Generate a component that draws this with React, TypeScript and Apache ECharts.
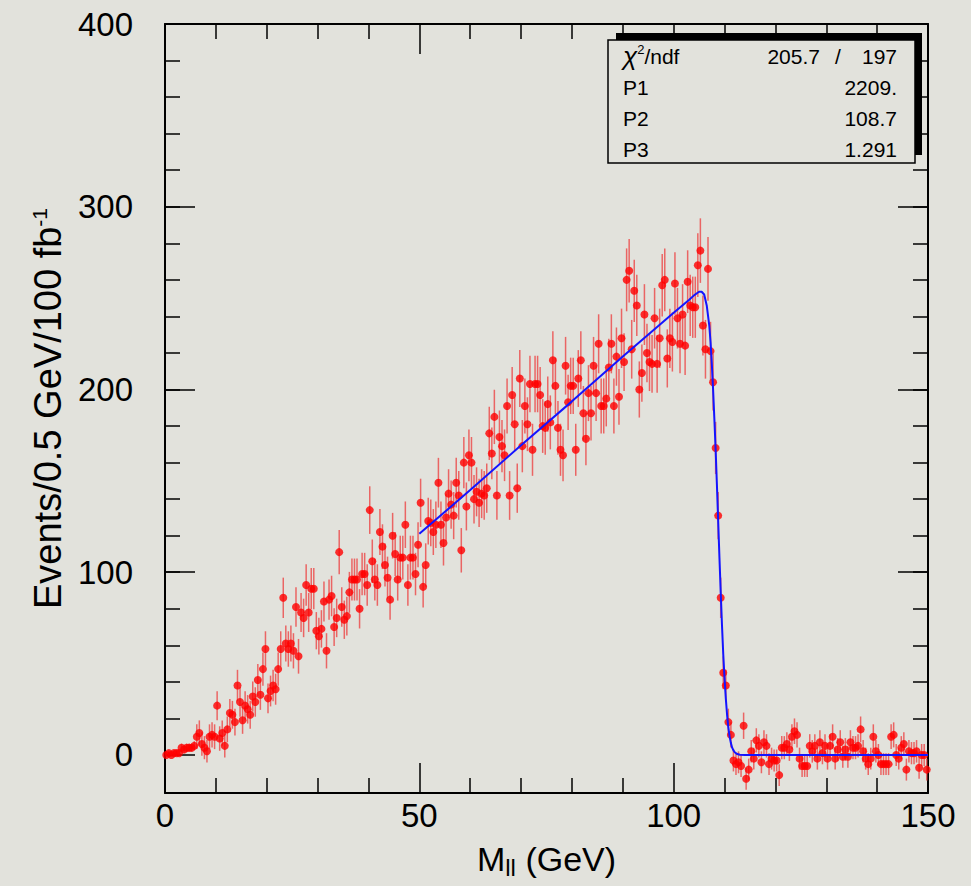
import React, { useEffect, useRef } from "react";
import * as echarts from "echarts";

// ---- data ----
const BIN_START_GEV = 0.25;
const BIN_WIDTH_GEV = 0.5;

// Events per 0.5 GeV bin, bins 0.25 .. 149.75 GeV
const EVENTS: number[] = [
  0, 1, 0, 1, 1, 1, 4, 3, 4, 4, 4, 5,
  10, 12, 6, 4, 2, 10, 11, 10,
  27, 9, 12, 5, 14, 23, 22, 18, 38, 29,
  19, 27, 25, 22, 32, 29, 41, 33, 47, 58,
  31, 35, 38, 36, 47, 58, 86, 61, 58, 61,
  57, 81, 54, 78, 75, 93, 78, 91, 91, 68,
  65, 69, 84, 57, 85, 87, 70, 75, 111, 81,
  74, 76, 89, 96, 96, 96, 80, 99, 99, 93,
  134, 106, 96, 93, 122, 114, 104, 97, 85, 120,
  110, 96, 108, 108, 126, 93, 108, 108, 99, 115,
  138, 92, 104, 128, 127, 122, 126, 149, 126, 116,
  130, 143, 137, 131, 149, 142, 112, 160, 136, 164,
  160, 140, 144, 138, 143, 142, 146, 176, 165, 185,
  142, 174, 169, 164, 191, 142, 197, 181, 146, 206,
  169, 191, 181, 203, 167, 203, 203, 197, 180, 179,
  192, 182, 216, 202, 179, 167, 164, 213, 193, 202,
  202, 167, 206, 216, 187, 173, 198, 187, 213, 198,
  225, 191, 191, 195, 212, 225, 191, 218, 196, 228,
  215, 260, 265, 222, 254, 246, 200, 209, 241, 220,
  215, 214, 239, 214, 228, 257, 260, 217, 228, 226,
  258, 239, 225, 241, 224, 259, 246, 245, 245, 268,
  276, 235, 222, 266, 221, 204, 168, 131, 86, 45,
  38, 18, 11, -3, -5, -4, -6, 16, -13, -8,
  2, -2, 8, 5, -4, 7, 5, -5, -2, -3,
  -3, -11, 4, 4, 6, 3, 10, 13, 11, -2,
  -6, -6, -6, 5, 2, 5, -2, 7, 1, 5,
  -2, 5, 10, -2, 3, 7, -1, 3, -1, 7,
  4, 4, 5, 14, 2, -2, -5, -2, 10, 2,
  0, -5, -5, -5, -5, 10, 11, 0, -2, 4,
  6, -8, 2, 1, 1, 2, -7, 0, 0, -8,
];

// extra variance (subtracted background) added to the Poisson error
const ERR_LOW_EDGE_GEV = 6;
const ERR_EXTRA_VAR_LOW = 1;
const ERR_EXTRA_VAR_HIGH = 36;

// fitted curve
const FIT_X = [
  50, 60, 70, 80, 90, 100, 103, 104, 104.5, 105, 105.5, 106, 106.5, 107,
  107.25, 107.5, 107.75, 108, 108.25, 108.5, 108.75, 109, 109.25, 109.5,
  109.75, 110, 110.25, 110.5, 110.75, 111, 111.25, 111.5, 111.75, 112,
  112.5, 113, 114, 150,
];
const FIT_Y = [
  121, 145, 169.5, 193.5, 218, 242, 249, 251.5, 252.5, 253.5, 253.5, 252,
  246, 235, 226, 214, 200, 184, 167, 148, 128, 108, 89, 71, 55, 42, 31, 22,
  15, 10, 6.5, 4, 2.5, 1.5, 0.5, 0.1, 0, 0,
];

const X_MIN = 0;
const X_MAX = 150;
const X_INTERVAL = 50;
const Y_MIN = -20.8;
const Y_MAX = 400;
const Y_MAJOR = [0, 100, 200, 300, 400];
const Y_MINOR = [0, 20, 40, 60, 80, 100, 120, 140, 160, 180, 200, 220, 240, 260, 280, 300, 320, 340, 360, 380, 400];

const STAT_NAMES = ["{chi|χ}{sup|2}/ndf", "P1", "P2", "P3"];
const STAT_VALUES = ["205.7", "2209.", "108.7", "1.291"];
const STAT_NDF = "197";

const X_TITLE = "M{sub|ll} (GeV)";
const Y_TITLE = "Events/0.5 GeV/100 fb{sup|-1}";

// ---- styling ----
const FONT = '"Liberation Sans", Arial, Helvetica, sans-serif';
const BG = "#e2e2dc";
const BLACK = "#000000";
const STAT_FONT = 21;

export default function App() {
  const ref = useRef<HTMLDivElement>(null);

  useEffect(() => {
    if (!ref.current) return;
    const chart = echarts.init(ref.current, undefined, { renderer: "svg" });

    const points = EVENTS.map((v, i) => [BIN_START_GEV + i * BIN_WIDTH_GEV, v]);
    const bars = EVENTS.map((v, i) => {
      const x = BIN_START_GEV + i * BIN_WIDTH_GEV;
      const extra = x < ERR_LOW_EDGE_GEV ? ERR_EXTRA_VAR_LOW : ERR_EXTRA_VAR_HIGH;
      const e = Math.sqrt(Math.max(v, 0) + extra);
      return [x, v - e, v + e];
    });
    const fit = FIT_X.map((x, i) => [x, FIT_Y[i]]);

    const tickLine = { color: BLACK, width: 1.5 };
    const axisLine = { show: true, onZero: false, lineStyle: { color: BLACK, width: 2 } };

    const xBase = (position: "bottom" | "top") => ({
      type: "value",
      position,
      min: X_MIN,
      max: X_MAX,
      interval: X_INTERVAL,
      axisLine,
      axisTick: { show: true, inside: true, length: 30, lineStyle: tickLine },
      minorTick: { show: true, splitNumber: 5, length: 15, lineStyle: tickLine },
      splitLine: { show: false },
      minorSplitLine: { show: false },
    });

    const yMajor = (position: "left" | "right", labels: boolean) => ({
      type: "value",
      position,
      min: Y_MIN,
      max: Y_MAX,
      axisLine,
      axisTick: { show: true, inside: true, length: 30, customValues: Y_MAJOR, lineStyle: tickLine },
      axisLabel: labels
        ? { show: true, customValues: Y_MAJOR, fontSize: 33, color: BLACK, fontFamily: FONT, margin: 32 }
        : { show: false },
      splitLine: { show: false },
    });
    const yMinor = (position: "left" | "right") => ({
      type: "value",
      position,
      min: Y_MIN,
      max: Y_MAX,
      axisLine: { show: false, onZero: false },
      axisTick: { show: true, inside: true, length: 15, customValues: Y_MINOR, lineStyle: tickLine },
      axisLabel: { show: false },
      splitLine: { show: false },
    });

    const statText = (text: string, x: number, y: number, align: string, rich?: any) => ({
      type: "text",
      z: 102,
      style: {
        text,
        x,
        y,
        fontSize: STAT_FONT,
        fontFamily: FONT,
        fill: BLACK,
        align,
        textAlign: align,
        verticalAlign: "middle",
        textVerticalAlign: "middle",
        ...(rich ? { rich } : {}),
      },
    });

    const rowY = (i: number) => 56 + i * 31;

    const option: any = {
      animation: false,
      backgroundColor: BG,
      grid: { left: 165, right: 43, top: 24, bottom: 93, containLabel: false, outerBoundsMode: "none" },
      xAxis: [
        {
          ...xBase("bottom"),
          axisLabel: { show: true, fontSize: 33, color: BLACK, fontFamily: FONT, margin: 6 },
          name: X_TITLE,
          nameLocation: "middle",
          nameGap: 46,
          nameTextStyle: {
            fontSize: 34,
            color: BLACK,
            fontFamily: FONT,
            rich: {
              sub: { fontSize: 24, color: BLACK, fontFamily: FONT, verticalAlign: "bottom", padding: [16, 0, 0, 0] },
            },
          },
        },
        { ...xBase("top"), axisLabel: { show: false } },
      ],
      yAxis: [
        {
          ...yMajor("left", true),
          name: Y_TITLE,
          nameLocation: "middle",
          nameGap: 96,
          nameRotate: 90,
          nameTextStyle: {
            fontSize: 38,
            color: BLACK,
            fontFamily: FONT,
            rich: { sup: { fontSize: 21, color: BLACK, fontFamily: FONT, verticalAlign: "top" } },
          },
        },
        yMinor("left"),
        yMajor("right", false),
        yMinor("right"),
      ],
      series: [
        {
          type: "custom",
          xAxisIndex: 0,
          yAxisIndex: 0,
          clip: true,
          z: 2,
          data: bars,
          renderItem: (_p: any, api: any) => {
            const x = api.value(0);
            const a = api.coord([x, api.value(1)]);
            const b = api.coord([x, api.value(2)]);
            return {
              type: "line",
              shape: { x1: a[0], y1: a[1], x2: b[0], y2: b[1] },
              style: { stroke: "rgba(236,70,70,0.8)", lineWidth: 1.5 },
            };
          },
        },
        {
          type: "scatter",
          xAxisIndex: 0,
          yAxisIndex: 0,
          z: 3,
          symbol: "circle",
          symbolSize: 8,
          itemStyle: { color: "#ff0000" },
          data: points,
        },
        {
          type: "line",
          xAxisIndex: 0,
          yAxisIndex: 0,
          z: 5,
          showSymbol: false,
          symbol: "none",
          lineStyle: { color: "#1414ff", width: 2 },
          data: fit,
        },
      ],
      graphic: [
        { type: "rect", z: 100, shape: { x: 616, y: 33, width: 306, height: 122 }, style: { fill: BLACK } },
        {
          type: "rect",
          z: 101,
          shape: { x: 608, y: 40, width: 307, height: 123 },
          style: { fill: BG, stroke: BLACK, lineWidth: 1.5 },
        },
        ...STAT_NAMES.map((t, i) =>
          statText(t, 623, rowY(i), "left", {
            chi: { fontSize: 26, fontStyle: "italic", fontFamily: FONT, fill: BLACK },
            sup: { fontSize: 13, fontFamily: FONT, fill: BLACK, verticalAlign: "top" },
          })
        ),
        ...STAT_VALUES.map((t, i) => statText(t, i === 0 ? 820 : 897, rowY(i), "right")),
        statText("/", 838, rowY(0), "center"),
        statText(STAT_NDF, 897, rowY(0), "right"),
      ],
    };

    chart.setOption(option);
    return () => chart.dispose();
  }, []);

  return (
    <div
      ref={ref}
      style={{ position: "absolute", left: 0, top: 0, width: 971, height: 886, background: BG }}
    />
  );
}
